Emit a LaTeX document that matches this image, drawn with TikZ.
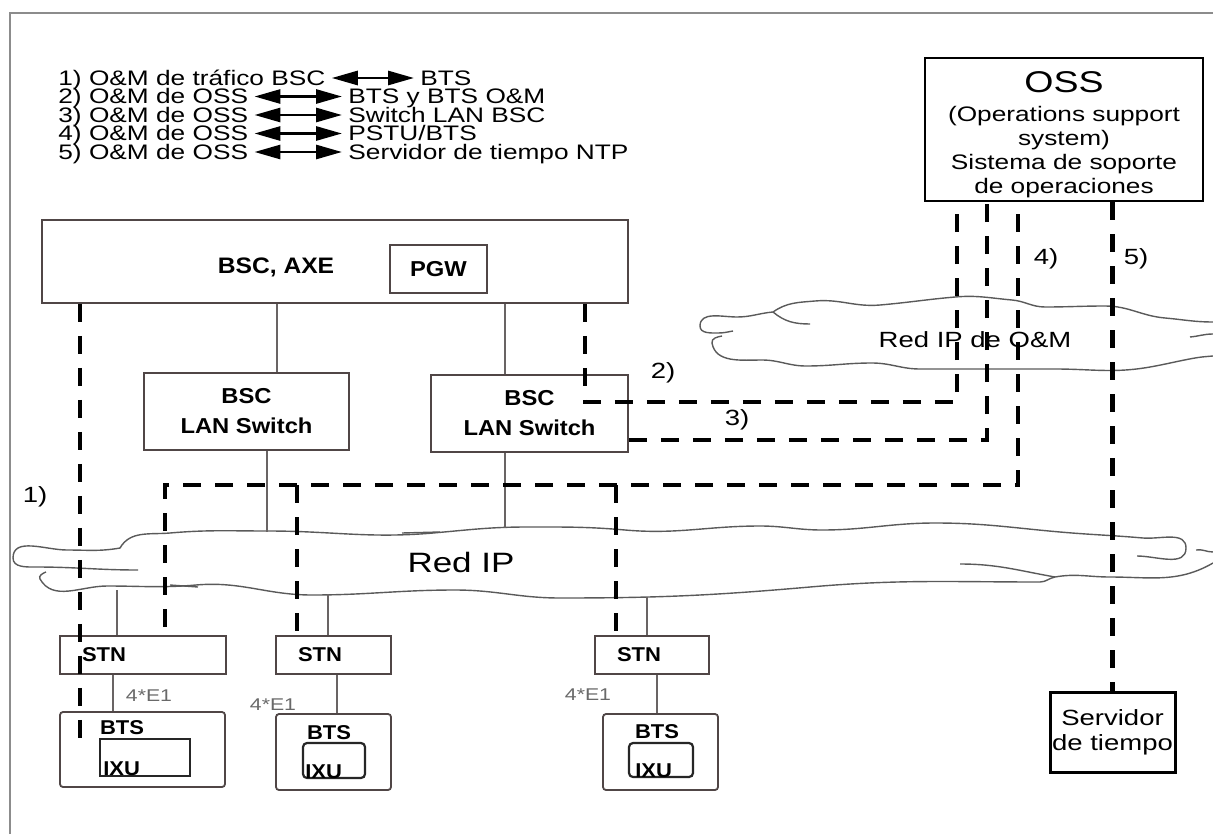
\documentclass[tikz,border=0pt]{standalone}
\usepackage{fontspec}
\setmainfont{Liberation Sans}[FakeStretch=1.25]
\newfontfamily\boxfont{Liberation Sans}[FakeStretch=1.1]
\usetikzlibrary{arrows.meta,positioning}

\definecolor{boxline}{RGB}{80,70,70}
\definecolor{linkgray}{RGB}{105,100,100}
\definecolor{cloudgray}{RGB}{90,90,90}
\definecolor{framegray}{RGB}{140,140,140}
\definecolor{labelgray}{RGB}{105,105,105}

\begin{document}
\begin{tikzpicture}[
  x=0.5pt, y=-0.5pt,
  box/.style={draw=boxline, line width=0.9pt, inner sep=0pt, fill=white},
  bigbold/.style={font=\boxfont\bfseries\fontsize{10.8}{15}\selectfont, inner sep=0pt},
  smallbold/.style={font=\boxfont\bfseries\fontsize{10}{12}\selectfont, inner sep=0pt},
  leg/.style={anchor=west, inner sep=0pt, text height=7.5pt, text depth=0pt, font=\fontsize{10.5}{12}\selectfont},
  both/.style={{Triangle[length=13pt,width=7pt]}-{Triangle[length=13pt,width=7pt]}, line width=1.4pt, shorten <=3pt, shorten >=3pt},
  link/.style={draw=linkgray, line width=0.6pt},
  oam/.style={line width=2.3pt, dash pattern=on 9pt off 7pt},
  cloudedge/.style={draw=cloudgray, line width=0.7pt},
  num/.style={inner sep=0pt, font=\fontsize{11}{12}\selectfont},
  eone/.style={inner sep=0pt, text=labelgray, font=\fontsize{8.5}{10}\selectfont}
]
\useasboundingbox (0,0) rectangle (1213,834);
\draw[framegray, line width=0.8pt] (10,834) -- (10,13) -- (1213,13);

% legend
\node[leg] (l1a) at (58,78) {1) O\&M de tráfico BSC};
\node[leg] (l1b) at (420,78) {BTS};
\node[leg] (l2a) at (58,96.5) {2) O\&M de OSS};
\node[leg] (l2b) at (348,96.5) {BTS y BTS O\&M};
\node[leg] (l3a) at (58,115) {3) O\&M de OSS};
\node[leg] (l3b) at (348,115) {Switch LAN BSC};
\node[leg] (l4a) at (58,133.5) {4) O\&M de OSS};
\node[leg] (l4b) at (348,133.5) {PSTU/BTS};
\node[leg] (l5a) at (58,152) {5) O\&M de OSS};
\node[leg] (l5b) at (348,152) {Servidor de tiempo NTP};
\draw[both] (l1a) -- (l1b);
\draw[both] (l2a) -- (l2b);
\draw[both] (l3a) -- (l3b);
\draw[both] (l4a) -- (l4b);
\draw[both] (l5a) -- (l5b);

% OSS
\node[box, draw=black, line width=1.1pt, minimum width=139pt, minimum height=71.5pt, align=center,
  font=\fontsize{10.5}{12}\selectfont] (oss) at (1064,129.5)
  {{\fontsize{15}{15}\selectfont\rule{0pt}{15.5pt}OSS}\\[2.5pt](Operations support\\system)\\Sistema de soporte\\de operaciones};

% BSC side
\node[box, minimum width=293pt, minimum height=41.5pt] (bscaxe) at (335,261.5) {};
\node[bigbold, font=\boxfont\bfseries\fontsize{11.2}{13}\selectfont] (axetxt) at (276,267) {BSC, AXE};
\node[box, bigbold, minimum width=48.5pt, minimum height=24pt] (pgw) at (438.5,269) {PGW};
\node[box, bigbold, align=center, minimum width=102.5pt, minimum height=38.5pt] (sw1) at (246.5,411.5) {BSC\\LAN Switch};
\node[box, bigbold, align=center, minimum width=98.5pt, minimum height=38.5pt] (sw2) at (529.5,413.5) {BSC\\LAN Switch};

% sites
\node[box, smallbold, minimum height=19pt, inner xsep=11pt, align=left, text width=61pt] (stn1) at (143,655) {STN};
\node[box, smallbold, minimum height=19pt, inner xsep=11pt, align=left, text width=35.5pt] (stn2) at (333.5,655) {STN};
\node[box, smallbold, minimum height=19pt, inner xsep=11pt, align=left, text width=35pt] (stn3) at (652,655) {STN};

\node[box, rounded corners=1.5pt, minimum width=82.5pt, minimum height=37.5pt] (bts1) at (142.5,749.5) {};
\node[box, rounded corners=1.5pt, minimum width=57.5pt, minimum height=38pt] (bts2) at (333.5,752) {};
\node[box, rounded corners=1.5pt, minimum width=57.5pt, minimum height=38pt] (bts3) at (660.5,752) {};
\node[smallbold] (bts1t) at (122,728) {BTS};
\node[smallbold] (bts2t) at (329,733) {BTS};
\node[smallbold] (bts3t) at (657,732) {BTS};
\node[box, draw=black!85, line width=1.1pt, minimum width=45pt, minimum height=18.5pt] (ixu1) at (145,757.5) {};
\node[box, draw=black!85, line width=1.1pt, rounded corners=2pt, minimum width=31pt, minimum height=17.5pt] (ixu2) at (334,760.5) {};
\node[box, draw=black!85, line width=1.1pt, rounded corners=2pt, minimum width=32pt, minimum height=17pt] (ixu3) at (661,760) {};
\node[smallbold, anchor=base west] (ixu1t) at ([xshift=2pt, yshift=1pt]ixu1.south west) {IXU};
\node[smallbold, anchor=base west] (ixu2t) at ([xshift=1.5pt, yshift=0.5pt]ixu2.south west) {IXU};
\node[smallbold, anchor=base west] (ixu3t) at ([xshift=3.5pt, yshift=0.5pt]ixu3.south west) {IXU};
\node[eone] (e1a) at (149,696) {4*E1};
\node[eone] (e1b) at (273,705) {4*E1};
\node[eone] (e1c) at (588,695) {4*E1};

\node[box, draw=black, line width=1.5pt, minimum width=62.5pt, minimum height=40pt, align=center,
  font=\fontsize{11}{12.5}\selectfont] (srv) at (1112.5,732) {Servidor\\de tiempo};

% clouds
\draw[cloudedge] (773,312) to[out=35,in=185] (815,301) to[out=5,in=185] (880,305) to[out=5,in=185] (955,297)
  to[out=5,in=175] (1012,300) to[out=-5,in=180] (1045,307) to[out=0,in=180] (1105,306)
  to[out=0,in=175] (1165,318) to[out=-5,in=180] (1213,322);
\draw[cloudedge] (773,312) to[out=185,in=0] (737,317) to[out=180,in=90] (700,326) to[out=-90,in=180] (718,333) to[out=0,in=190] (733,331);
\draw[cloudedge] (773,312) to[out=-40,in=180] (810,324);
\draw[cloudedge] (722,336) to[out=190,in=100] (712,343) to[out=-80,in=180] (762,360) to[out=0,in=180] (806,366)
  to[out=0,in=180] (872,363) to[out=0,in=180] (920,369) to[out=0,in=180] (1055,369)
  to[out=0,in=190] (1150,367) to[out=10,in=190] (1195,358) to[out=10,in=185] (1213,356);
\draw[cloudedge] (1190,337) to[out=5,in=180] (1213,334);
\node[font=\fontsize{11}{12}\selectfont] (redoam) at (975,340) {Red IP de O\&M};

\draw[cloudedge] (1137,556) to[out=0,in=-90] (1186,548) to[out=90,in=-5] (1143,538) to[out=175,in=-5] (1060,532)
  to[out=175,in=0] (935,523) to[out=180,in=0] (822,530) to[out=180,in=0] (760,526) to[out=180,in=-5] (625,530)
  to[out=175,in=0] (527,527) to[out=180,in=5] (433,533) to[out=185,in=0] (268,531) to[out=180,in=5] (170,533)
  to[out=185,in=60] (120,548) to[out=190,in=0] (67,550) to[out=180,in=90] (13,558) to[out=-90,in=180] (36,567)
  to[out=0,in=180] (138,570);
\draw[cloudedge] (402,533) -- (440,532);
\draw[cloudedge] (1196,550) to[out=10,in=180] (1213,552);
\draw[cloudedge] (46,572) to[out=200,in=120] (40,579) to[out=-60,in=180] (107,586) to[out=0,in=185] (196,585)
  to[out=5,in=180] (312,595) to[out=0,in=180] (455,590) to[out=0,in=180] (560,598) to[out=0,in=185] (810,587)
  to[out=5,in=180] (1040,582) to[out=0,in=190] (1055,577) to[out=10,in=180] (1110,577) to[out=0,in=-150] (1213,563);
\draw[cloudedge] (170,585) -- (198,587);
\draw[cloudedge] (960,564) to[out=0,in=170] (1055,577);
\node[font=\fontsize{14}{14}\selectfont] (redip) at (461,562) {Red IP};

% plain links
\coordinate (a1) at (277,0);
\coordinate (a2) at (505,0);
\coordinate (b1) at (267,532);
\coordinate (b2) at (505,528);
\coordinate (c1) at (117,590);
\coordinate (c2) at (328,594);
\coordinate (c3) at (647,597);
\coordinate (d1) at (113,0);
\coordinate (d2) at (337,0);
\coordinate (d3) at (657,0);
\draw[link] (bscaxe.south -| a1) -- (sw1.north -| a1);
\draw[link] (bscaxe.south -| a2) -- (sw2.north -| a2);
\draw[link] (sw1.south -| b1) -- (b1);
\draw[link] (sw2.south -| b2) -- (b2);
\draw[link] (c1) -- (stn1.north -| c1);
\draw[link] (c2) -- (stn2.north -| c2);
\draw[link] (c3) -- (stn3.north -| c3);
\draw[link] (stn1.south -| d1) -- (bts1.north -| d1);
\draw[link] (stn2.south -| d2) -- (bts2.north -| d2);
\draw[link] (stn3.south -| d3) -- (bts3.north -| d3);

% O&M paths
\coordinate (e1) at (80,740);
\coordinate (e2) at (585,402);
\coordinate (f2) at (957,402);
\coordinate (g3) at (987,440);
\coordinate (h4t) at (1018,214);
\coordinate (h4) at (1018,485);
\coordinate (h4l) at (165,485);
\coordinate (h4b) at (297,485);
\coordinate (h4c) at (616,485);
\draw[oam] (bscaxe.south -| e1) -- (e1);
\draw[oam] (bscaxe.south -| e2) -- (e2) -- (f2) -- (f2 |- oss.south);
\draw[oam] (g3 -| sw2.east) -- (g3) -- (g3 |- oss.south);
\draw[oam] (h4t) -- (h4) -- (h4l) -- (h4l |- stn1.north);
\draw[oam] (h4b) -- (h4b |- stn2.north);
\draw[oam] (h4c) -- (h4c |- stn3.north);
\draw[oam] (oss.south -| srv.north) -- (srv.north);

\node[num] (n1) at (35,497) {1)};
\node[num] (n2) at (663,373) {2)};
\node[num] (n3) at (737,420) {3)};
\node[num] (n4) at (1046,259) {4)};
\node[num] (n5) at (1136,259) {5)};

\end{tikzpicture}
\end{document}
